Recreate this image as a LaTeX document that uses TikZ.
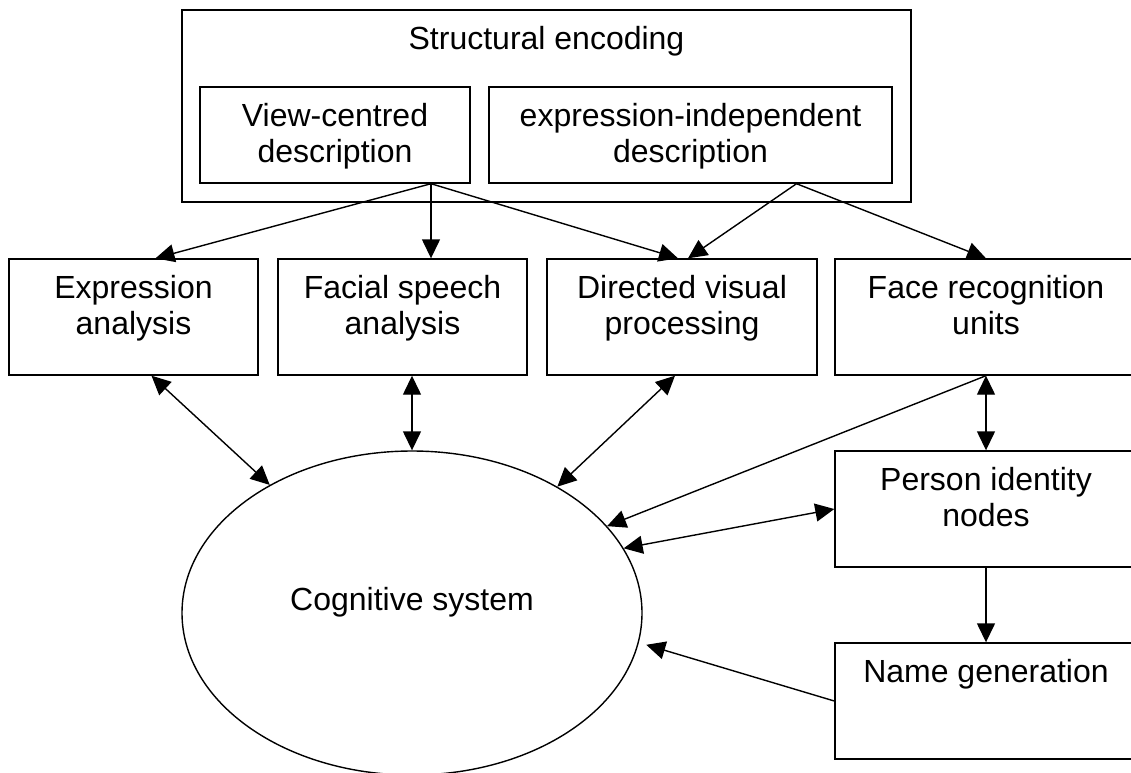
\documentclass[tikz,border=0pt]{standalone}
\usepackage{fontspec}
\setmainfont{Liberation Sans}
\usetikzlibrary{arrows.meta,shapes.geometric}

\begin{document}
\begin{tikzpicture}[
        x=0.5pt, y=-0.5pt,
        font=\fontsize{16}{18}\selectfont,
        line width=0.7pt,
        box/.style={draw, inner sep=0pt},
        cell/.style={box, minimum width=#1, minimum height=58pt},
        top/.style={label={[anchor=north, align=center, inner sep=8pt]north:#1}},
        line/.style={-{Triangle[length=9.5pt, width=9pt]}},
        both/.style={{Triangle[length=9.5pt, width=9pt]}-{Triangle[length=9.5pt, width=9pt]}}
    ]
        \useasboundingbox (0,0) rectangle (1131,772);

        % structural encoding
        \node[box, minimum width=364.5pt, minimum height=96pt, top={Structural encoding}] (enc) at (546.5,106) {};
        \node[box, minimum width=135pt, minimum height=48pt, top={View-centred\\description}] (view) at (335,135) {};
        \node[box, minimum width=201.5pt, minimum height=48pt, top={expression-independent\\description}] (indep) at (690.5,135) {};

        % middle row
        \node[cell=124.5pt, top={Expression\\analysis}] (expr) at (133.5,317) {};
        \node[cell=124.5pt, top={Facial speech\\analysis}] (speech) at (402.5,317) {};
        \node[cell=135pt, top={Directed visual\\processing}] (visual) at (682,317) {};
        \node[cell=151pt, top={Face recognition\\units}] (recog) at (986,317) {};

        % right column
        \node[cell=151pt, top={Person identity\\nodes}] (person) at (986,509) {};
        \node[cell=151pt, top={Name generation}] (name) at (986,701) {};

        \node[draw, ellipse, inner sep=0pt, minimum width=230pt, minimum height=162pt,
              label={[yshift=5.6pt]center:Cognitive system}] (cog) at (412,613) {};

        \coordinate (vc) at ([xshift=48pt]view.south);
        \coordinate (ei) at ([xshift=53pt]indep.south);

        \draw[line] (vc) -- ([xshift=11pt]expr.north);
        \draw[line] (vc) -- (vc |- speech.north);
        \draw[line] (vc) -- ([xshift=-2pt]visual.north);
        \draw[line] (ei) -- ([xshift=3pt]visual.north);
        \draw[line] (ei) -- (recog.north);
        \draw[both] ([xshift=9pt]expr.south) -- (cog.138);
        \draw[both] (speech.south -| cog.north) -- (cog.north);
        \draw[both] ([xshift=-3.5pt]visual.south) -- (cog.41);
        \draw[line] (recog.south) -- (cog.24);
        \draw[both] (recog.south) -- (person.north);
        \draw[both] (person.west) -- (cog.17);
        \draw[line] (person.south) -- (name.north);
        \draw[line] (name.west) -- ([xshift=4pt]cog.-8);
    \end{tikzpicture}
\end{document}
